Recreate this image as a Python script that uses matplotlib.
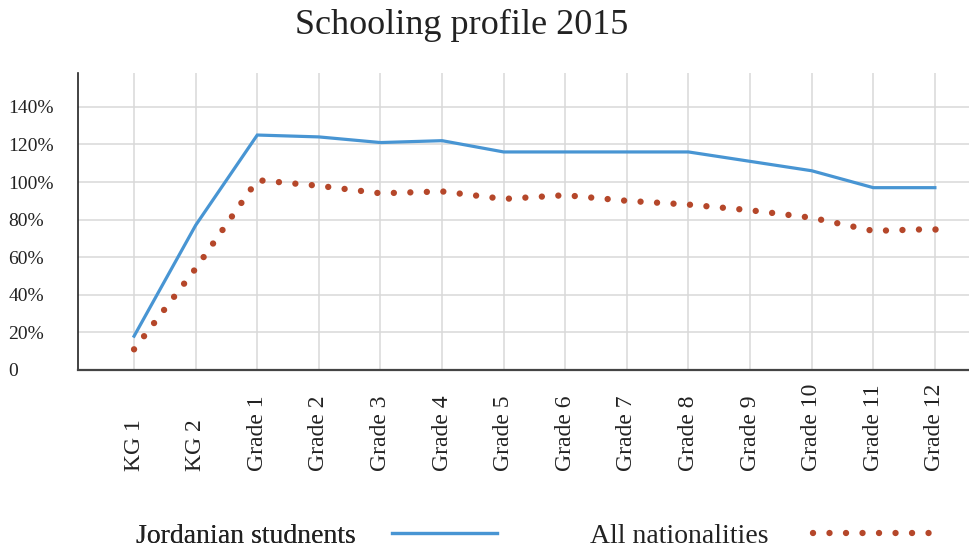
import matplotlib
matplotlib.use("Agg")
import matplotlib.pyplot as plt
from matplotlib.lines import Line2D

plt.rcParams['font.family'] = ['Liberation Serif', 'DejaVu Serif']

# =============================

grades = ['KG 1', 'KG 2', 'Grade 1', 'Grade 2', 'Grade 3', 'Grade 4', 'Grade 5',
          'Grade 6', 'Grade 7', 'Grade 8', 'Grade 9', 'Grade 10', 'Grade 11', 'Grade 12']
jordanian = [18, 77, 125, 124, 121, 122, 116, 116, 116, 116, 111, 106, 97, 97]
all_nationalities = [11, 54, 101, 98, 94, 95, 91, 93, 90, 88, 85, 81, 74, 75]
y_ticks = [0, 20, 40, 60, 80, 100, 120, 140]
y_labels = ['0', '20%', '40%', '60%', '80%', '100%', '120%', '140%']

BLUE = '#4895d3'
RED = '#b5472a'
GRID = '#d9d9d9'

# =============================

W, H = 970, 547
fig = plt.figure(figsize=(W / 100, H / 100), dpi=100)
ax = fig.add_axes([78 / W, 177 / H, 1 - 78 / W, 297 / H])

x = list(range(len(grades)))
ax.plot(x, jordanian, color=BLUE, linewidth=2.3, solid_joinstyle='miter', zorder=3)
dot_lw = 4.6
dotted = (0, (0.001, 16.5 / (dot_lw * 100 / 72)))
ax.plot(x, all_nationalities, color=RED, linewidth=dot_lw, linestyle=dotted,
        dash_capstyle='round', zorder=3)
# the dotted pattern does not always land on the last point
ax.plot(x[-1:], all_nationalities[-1:], 'o', color=RED, markersize=dot_lw, markeredgewidth=0, zorder=3)

ax.set_xlim(-0.91, 13.57)
ax.set_ylim(0, 158)

ax.set_yticks(y_ticks)
ax.set_yticklabels(y_labels, fontsize=14, ha='left', color='#222222')
ax.set_xticks(x)
ax.set_xticklabels(grades, rotation=90, fontsize=17, va='bottom', ha='center', color='#222222')
ax.tick_params(axis='y', length=0, pad=50)
ax.tick_params(axis='x', length=0, pad=73)

ax.grid(True, color=GRID, linewidth=1.1)
ax.set_axisbelow(True)
for s in ['top', 'right']:
    ax.spines[s].set_visible(False)
ax.spines['left'].set_color('#222222')
ax.spines['left'].set_linewidth(1.2)
ax.spines['bottom'].set_color('#444444')
ax.spines['bottom'].set_linewidth(1.6)

fig.text(461.5 / W, 1 - 25 / H, 'Schooling profile 2015', ha='center', va='center',
         fontsize=26, color='#222222')

# legend: text first, handle after
fs = 20
px = fs * 100 / 72
h1 = Line2D([], [], color=BLUE, linewidth=2.3)
leg1 = fig.legend([h1], ['Jordanian studnents'], loc='center right',
                  bbox_to_anchor=(497 / W, 1 - 536 / H), markerfirst=False, frameon=False,
                  fontsize=fs, handlelength=105 / px, handletextpad=1.3,
                  borderpad=0, borderaxespad=0)
h2 = Line2D([], [], color=RED, linewidth=dot_lw, linestyle=dotted, dash_capstyle='round')
leg2 = fig.legend([h2], ['All nationalities'], loc='center right',
                  bbox_to_anchor=(930 / W, 1 - 536 / H), markerfirst=False, frameon=False,
                  fontsize=fs, handlelength=117 / px, handletextpad=1.6,
                  borderpad=0, borderaxespad=0)
for leg in (leg1, leg2):
    for t in leg.get_texts():
        t.set_color('#222222')
fig.add_artist(leg1)

fig.savefig('out.png', dpi=100)
